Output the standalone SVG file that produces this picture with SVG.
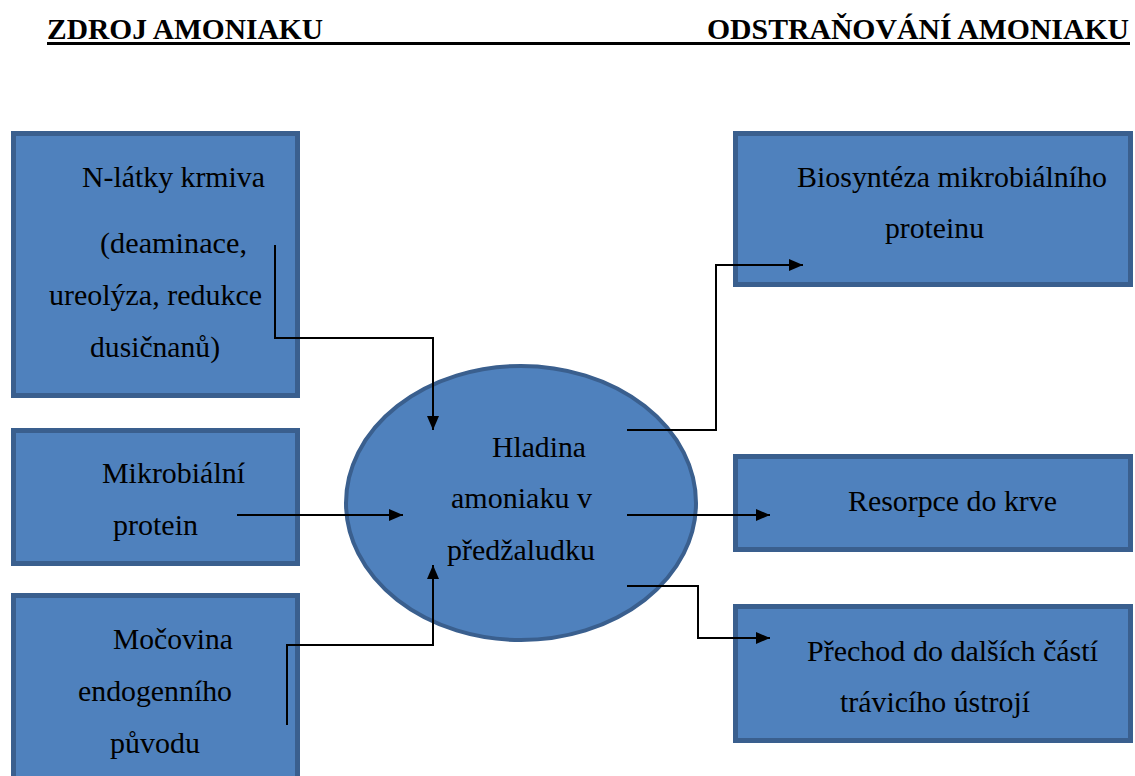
<svg xmlns="http://www.w3.org/2000/svg" width="1135" height="776" viewBox="0 0 1135 776">
<style>
.box{fill:#4F81BD;stroke:#3A5F8E;stroke-width:5}
.ell{fill:#4F81BD;stroke:#3A5F8E;stroke-width:4}
.t{font-family:'Liberation Serif','Times New Roman',serif;font-size:29px;fill:#000}
.h{font-family:'Liberation Serif','Times New Roman',serif;font-size:30px;font-weight:bold;fill:#000}
.c{fill:none;stroke:#000;stroke-width:2}
</style>
<defs>
<marker id="arr" markerUnits="userSpaceOnUse" markerWidth="14" markerHeight="12" refX="14" refY="6" orient="auto">
<path d="M0,0 L14,6 L0,12 z" fill="#000"/>
</marker>
</defs>
<rect width="1135" height="776" fill="#fff"/>
<g id="header">
<text class="h" x="47" y="39" textLength="276" lengthAdjust="spacingAndGlyphs">ZDROJ AMONIAKU</text>
<text class="h" x="707" y="39" textLength="422" lengthAdjust="spacingAndGlyphs">ODSTRAŇOVÁNÍ AMONIAKU</text>
<line x1="47" y1="43.5" x2="1130" y2="43.5" stroke="#000" stroke-width="3"/>
</g>
<g id="n-latky">
<rect class="box" x="13.5" y="133.5" width="284" height="262"/>
<text class="t" x="82" y="187" textLength="183" lengthAdjust="spacingAndGlyphs">N-látky krmiva</text>
<text class="t" x="100" y="253" textLength="147" lengthAdjust="spacingAndGlyphs">(deaminace,</text>
<text class="t" x="49" y="305" textLength="213" lengthAdjust="spacingAndGlyphs">ureolýza, redukce</text>
<text class="t" x="90" y="357" textLength="130" lengthAdjust="spacingAndGlyphs">dusičnanů)</text>
</g>
<g id="mikrobialni">
<rect class="box" x="13.5" y="430.5" width="284" height="133"/>
<text class="t" x="102" y="483" textLength="143" lengthAdjust="spacingAndGlyphs">Mikrobiální</text>
<text class="t" x="113" y="535" textLength="85" lengthAdjust="spacingAndGlyphs">protein</text>
</g>
<g id="mocovina">
<rect class="box" x="13.5" y="595.5" width="284" height="200"/>
<text class="t" x="113" y="649" textLength="120" lengthAdjust="spacingAndGlyphs">Močovina</text>
<text class="t" x="78" y="701" textLength="154" lengthAdjust="spacingAndGlyphs">endogenního</text>
<text class="t" x="110" y="753" textLength="90" lengthAdjust="spacingAndGlyphs">původu</text>
</g>
<g id="hladina">
<ellipse class="ell" cx="521" cy="503" rx="175" ry="137"/>
<text class="t" x="492" y="457" textLength="94" lengthAdjust="spacingAndGlyphs">Hladina</text>
<text class="t" x="451" y="508" textLength="141" lengthAdjust="spacingAndGlyphs">amoniaku v</text>
<text class="t" x="447" y="560" textLength="148" lengthAdjust="spacingAndGlyphs">předžaludku</text>
</g>
<g id="biosynteza">
<rect class="box" x="735.5" y="133.5" width="395" height="151"/>
<text class="t" x="797" y="187" textLength="310" lengthAdjust="spacingAndGlyphs">Biosyntéza mikrobiálního</text>
<text class="t" x="885" y="238" textLength="99" lengthAdjust="spacingAndGlyphs">proteinu</text>
</g>
<g id="resorpce">
<rect class="box" x="735.5" y="456.5" width="395" height="93"/>
<text class="t" x="848" y="511" textLength="209" lengthAdjust="spacingAndGlyphs">Resorpce do krve</text>
</g>
<g id="prechod">
<rect class="box" x="735.5" y="606.5" width="395" height="134"/>
<text class="t" x="807" y="661" textLength="291" lengthAdjust="spacingAndGlyphs">Přechod do dalších částí</text>
<text class="t" x="840" y="712" textLength="190" lengthAdjust="spacingAndGlyphs">trávicího ústrojí</text>
</g>
<g id="connectors">
<polyline class="c" points="275,245 275,338 433,338 433,430" marker-end="url(#arr)"/>
<line class="c" x1="237" y1="515" x2="403" y2="515" marker-end="url(#arr)"/>
<polyline class="c" points="287,725 287,645 433,645 433,565" marker-end="url(#arr)"/>
<polyline class="c" points="627,430 716,430 716,265 803,265" marker-end="url(#arr)"/>
<line class="c" x1="627" y1="515" x2="770" y2="515" marker-end="url(#arr)"/>
<polyline class="c" points="627,586 698,586 698,638 770,638" marker-end="url(#arr)"/>
</g>
</svg>
